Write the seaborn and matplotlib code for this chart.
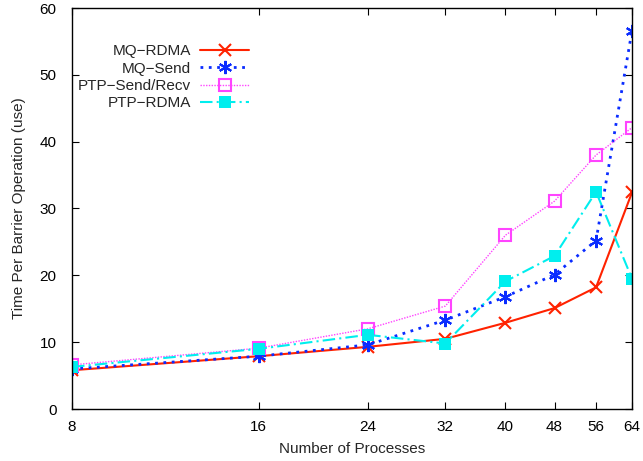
import numpy as np
import pandas as pd
import matplotlib
matplotlib.use("Agg")
import matplotlib.pyplot as plt
from matplotlib.ticker import FixedLocator, FixedFormatter, NullLocator
import seaborn as sns

# data
procs = [8, 16, 24, 32, 40, 48, 56, 64]
mq_rdma = [5.8, 7.9, 9.3, 10.5, 12.9, 15.1, 18.2, 32.4]
mq_send = [6.0, 7.9, 9.6, 13.3, 16.8, 20.1, 25.2, 56.6]
ptp_sendrecv = [6.6, 9.1, 12.0, 15.4, 26.0, 31.1, 38.0, 42.1]
ptp_rdma = [6.3, 9.0, 11.1, 9.8, 19.1, 22.9, 32.5, 19.5]

series = ["MQ\u2212RDMA", "MQ\u2212Send", "PTP\u2212Send/Recv", "PTP\u2212RDMA"]
values = [mq_rdma, mq_send, ptp_sendrecv, ptp_rdma]

sns.set_theme(style="ticks")
plt.rcParams["font.family"] = ["Liberation Sans", "DejaVu Sans"]

fig = plt.figure(figsize=(6.43, 4.61), dpi=100)
ax = fig.add_axes([72 / 643, 52 / 461, 560 / 643, 401 / 461])

styles = [
    dict(color="#ff2200", linestyle="-", linewidth=1.5, marker="x", markersize=9,
         markeredgewidth=1.5, markeredgecolor="#ff2200"),
    dict(color="#0a2cff", linestyle=(0, (1, 2)), linewidth=2.0, marker=(6, 2, 0),
         markersize=9.5, markeredgewidth=1.5, markeredgecolor="#0a2cff"),
    dict(color="#ff44ff", linestyle=(0, (1, 1)), linewidth=1.0, marker="s", markersize=9,
         markerfacecolor="none", markeredgewidth=1.5, markeredgecolor="#ff44ff"),
    dict(color="#00eeee", linestyle=(0, (6, 2, 1, 2)), linewidth=1.5, marker="s",
         markersize=8.5, markeredgewidth=0, markeredgecolor="#00eeee"),
]

for name, vals, st in zip(series, values, styles):
    df = pd.DataFrame({"procs": procs, "time": vals})
    sns.lineplot(data=df, x="procs", y="time", ax=ax, label=name, **st)

ax.set_xscale("log", base=2)
ax.set_xlim(8, 64)
ax.set_ylim(0, 60)
ax.xaxis.set_major_locator(FixedLocator(procs))
ax.xaxis.set_major_formatter(FixedFormatter([str(p) for p in procs]))
ax.xaxis.set_minor_locator(NullLocator())
ax.set_yticks(range(0, 61, 10))

ax.tick_params(direction="in", top=True, right=True, length=5, width=0.8,
               labelsize=11, colors="black")
ax.tick_params(axis="y", pad=11)
ax.tick_params(axis="x", pad=8)
for sp in ax.spines.values():
    sp.set_visible(True)
    sp.set_color("black")
    sp.set_linewidth(1.0)

ax.set_xlabel("Number of Processes", fontsize=11, labelpad=6)
ax.set_ylabel("Time Per Barrier Operation (use)", fontsize=11, labelpad=10)

ax.legend(loc="upper left", bbox_to_anchor=(0.0, 0.925), markerfirst=False,
          frameon=False, fontsize=11, handlelength=3.2, labelspacing=0.22,
          handletextpad=0.6, borderaxespad=0.0)

fig.savefig("out.png", dpi=100)
